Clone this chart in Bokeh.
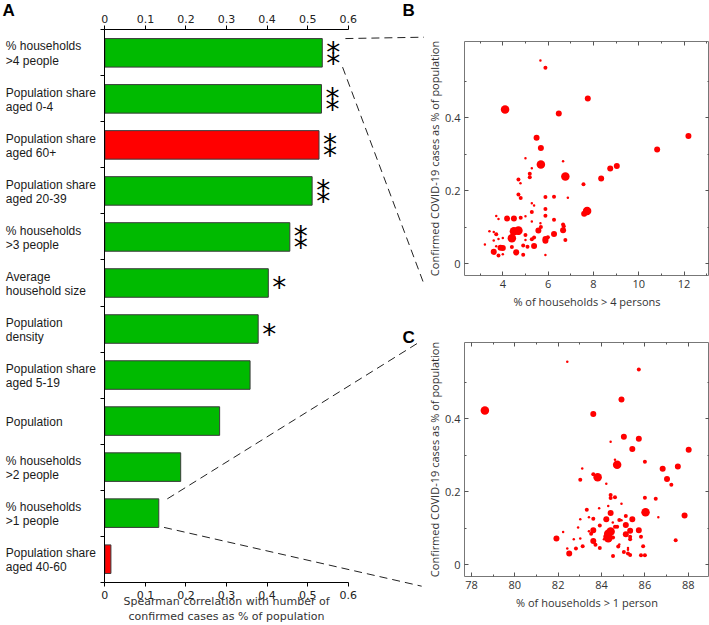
from bokeh.plotting import figure
from bokeh.layouts import row, column
from bokeh.models import (Range1d, LinearAxis, FixedTicker, Label, Arrow)
from bokeh.core.properties import value
from bokeh.embed import file_html
from bokeh.resources import INLINE

# ---------------- data: panel A ----------------
categories = [
    "% households\n>4 people",
    "Population share\naged 0-4",
    "Population share\naged 60+",
    "Population share\naged 20-39",
    "% households\n>3 people",
    "Average\nhousehold size",
    "Population\ndensity",
    "Population share\naged 5-19",
    "Population",
    "% households\n>2 people",
    "% households\n>1 people",
    "Population share\naged 40-60",
]
correlations = [0.536, 0.534, 0.528, 0.511, 0.456, 0.403, 0.378, 0.358, 0.283, 0.187, 0.133, 0.015]
signs = ["+", "+", "-", "+", "+", "+", "+", "+", "+", "+", "+", "-"]
significance = ["**", "**", "**", "**", "**", "*", "*", "", "", "", "", ""]
corr_ticks = [0, 0.1, 0.2, 0.3, 0.4, 0.5, 0.6]

# ---------------- data: panel B (x = % households > 4 persons) ----------------
b_x = [5.66, 5.88, 4.10, 7.75, 6.47, 12.19, 10.81, 5.49, 5.68, 5.68, 5.00, 6.66, 6.76, 5.28, 5.19, 5.19,
       4.69, 4.78, 7.56, 8.34, 8.74, 9.03, 4.69, 4.79, 5.88, 6.26, 6.87, 5.28, 5.38, 5.88, 5.28, 5.88,
       7.72, 7.59, 3.71, 3.81, 4.19, 4.49, 4.79, 5.00, 6.26, 5.28, 5.66, 6.66, 6.69, 5.68, 4.49, 4.69,
       4.69, 5.57, 6.66, 6.26, 3.41, 3.60, 3.71, 4.40, 5.00, 4.00, 4.40, 5.38, 5.28, 5.88, 5.99, 5.88,
       5.00, 6.76, 3.21, 3.60, 3.81, 3.71, 4.90, 5.09, 5.38, 4.40, 3.90, 4.00, 3.60, 3.62, 4.59, 4.59,
       4.90, 3.81, 4.00, 5.88]
b_y = [0.557, 0.537, 0.423, 0.453, 0.412, 0.350, 0.313, 0.345, 0.317, 0.272, 0.289, 0.281, 0.239, 0.262, 0.247, 0.237,
       0.231, 0.221, 0.218, 0.234, 0.261, 0.268, 0.190, 0.180, 0.183, 0.184, 0.181, 0.166, 0.160, 0.150, 0.142, 0.132,
       0.145, 0.137, 0.131, 0.123, 0.124, 0.124, 0.126, 0.130, 0.121, 0.116, 0.111, 0.108, 0.103, 0.101, 0.089, 0.091,
       0.087, 0.091, 0.092, 0.082, 0.089, 0.087, 0.081, 0.080, 0.079, 0.071, 0.070, 0.072, 0.067, 0.068, 0.073, 0.063,
       0.065, 0.065, 0.053, 0.064, 0.068, 0.048, 0.050, 0.047, 0.049, 0.046, 0.044, 0.043, 0.033, 0.030, 0.032, 0.028,
       0.025, 0.023, 0.026, 0.024]
b_pop = [1, 2, 4, 3, 3, 3, 3, 3, 3, 4, 1, 1, 4, 1, 2, 2,
         2, 1, 2, 3, 3, 3, 2, 2, 2, 2, 1, 1, 1, 2, 2, 2,
         4, 3, 1, 1, 3, 3, 2, 1, 2, 1, 1, 2, 2, 2, 4, 4,
         3, 3, 3, 3, 1, 1, 2, 1, 2, 1, 4, 2, 2, 3, 2, 3,
         1, 2, 1, 1, 1, 1, 2, 2, 3, 2, 3, 3, 3, 2, 3, 2,
         2, 2, 1, 1]

# ---------------- data: panel C (x = % households > 1 person) ----------------
c_x = [78.62, 82.42, 85.72, 84.92, 83.62, 85.03, 85.72, 84.42, 85.42, 88.02, 84.62, 86.00, 84.72, 87.52, 86.82, 83.11,
       83.62, 83.82, 87.02, 83.02, 87.22, 84.22, 84.42, 84.42, 84.62, 86.00, 86.50, 84.92, 83.89, 83.32, 84.31, 84.42,
       86.03, 87.83, 86.62, 83.42, 83.62, 84.22, 85.42, 84.82, 85.12, 83.02, 84.92, 83.92, 84.72, 84.62, 85.12, 84.52,
       82.92, 82.23, 83.42, 83.62, 84.42, 84.31, 85.32, 85.72, 83.52, 84.22, 85.12, 85.82, 85.32, 85.32, 84.53, 84.31,
       81.92, 82.72, 83.62, 83.02, 84.11, 84.42, 87.42, 84.82, 83.72, 83.92, 83.13, 82.82, 82.42, 84.77, 85.22, 85.22,
       85.92, 82.51, 85.03, 85.22, 85.32, 84.53, 85.82, 86.00]
c_y = [0.423, 0.556, 0.535, 0.453, 0.413, 0.351, 0.345, 0.337, 0.317, 0.315, 0.288, 0.282, 0.274, 0.269, 0.263, 0.264,
       0.248, 0.240, 0.235, 0.233, 0.219, 0.222, 0.191, 0.183, 0.185, 0.184, 0.181, 0.167, 0.155, 0.151, 0.161, 0.142,
       0.144, 0.135, 0.130, 0.130, 0.126, 0.125, 0.125, 0.123, 0.134, 0.125, 0.122, 0.108, 0.104, 0.104, 0.109, 0.116,
       0.102, 0.090, 0.092, 0.095, 0.091, 0.085, 0.093, 0.095, 0.085, 0.077, 0.084, 0.077, 0.077, 0.070, 0.075, 0.073,
       0.072, 0.070, 0.065, 0.072, 0.070, 0.070, 0.067, 0.056, 0.055, 0.046, 0.051, 0.045, 0.045, 0.050, 0.046, 0.041,
       0.051, 0.031, 0.035, 0.031, 0.027, 0.024, 0.026, 0.026]
c_pop = [4, 1, 2, 3, 3, 3, 3, 1, 3, 3, 1, 2, 4, 3, 3, 1,
         2, 4, 3, 2, 2, 1, 2, 2, 2, 2, 2, 1, 1, 2, 1, 3,
         4, 3, 1, 1, 2, 3, 3, 2, 2, 1, 1, 2, 2, 2, 3, 1,
         1, 1, 1, 3, 4, 4, 3, 3, 2, 3, 3, 2, 2, 2, 2, 4,
         3, 1, 3, 1, 1, 1, 2, 1, 2, 2, 2, 2, 1, 2, 1, 1,
         2, 3, 2, 2, 2, 2, 2, 2]

b_xticks = [4, 6, 8, 10, 12]
c_xticks = [78, 80, 82, 84, 86, 88]
case_ticks = [0.0, 0.2, 0.4]

GREEN = "#00BA00"
RED = "#FF0000"
DOT_SIZE = {1: 2.5, 2: 4.0, 3: 6.0, 4: 8.5}

# ================= panel A =================
n = len(categories)
centers = [n - 0.5 - i for i in range(n)]
colors = [GREEN if s == "+" else RED for s in signs]
BAR_H = 0.62
XR = (-0.2572, 0.788)
YR = (-0.941, 12.637)

# the frame fills the whole figure; axes are pinned at data locations
pA = figure(width=424, height=625, x_range=Range1d(*XR), y_range=Range1d(*YR),
            output_backend="svg", toolbar_location=None,
            min_border_left=0, min_border_right=0, min_border_top=0, min_border_bottom=0)
pA.outline_line_color = None
pA.grid.visible = False
pA.background_fill_color = None
pA.border_fill_color = None

pA.hbar(y=centers, left=0, right=correlations, height=BAR_H,
        fill_color=colors, line_color="#3a3a3a", line_width=1)

def style_corr_axis(ax):
    ax.bounds = (0, 0.6)
    ax.ticker = FixedTicker(ticks=corr_ticks)
    ax.major_label_overrides = {0: "0"}
    ax.major_tick_out = 4
    ax.major_tick_in = 0
    ax.minor_tick_out = 0
    ax.minor_tick_in = 0
    ax.axis_line_color = "#000000"
    ax.major_tick_line_color = "#000000"
    ax.major_label_text_font = "DejaVu Sans"
    ax.major_label_text_font_size = "11px"
    ax.major_label_text_color = "#222222"
    ax.major_label_standoff = 3

bottom_axis = pA.below[0]
style_corr_axis(bottom_axis)
bottom_axis.fixed_location = 0
bottom_axis.major_label_standoff = 5
bottom_axis.axis_label = "Spearman correlation with number of\nconfirmed cases as % of population"
bottom_axis.axis_label_text_font = "DejaVu Sans"
bottom_axis.axis_label_text_font_size = "11px"
bottom_axis.axis_label_text_font_style = "normal"
bottom_axis.axis_label_text_color = "#333333"
bottom_axis.axis_label_standoff = -8

top_axis = LinearAxis(fixed_location=n)
style_corr_axis(top_axis)
pA.add_layout(top_axis, "above")

ya = pA.left[0]
ya.fixed_location = 0
ya.bounds = (0, n)
ya.ticker = FixedTicker(ticks=[], minor_ticks=list(range(n + 1)))
ya.minor_tick_out = 4
ya.minor_tick_in = 0
ya.major_tick_out = 0
ya.major_tick_in = 0
ya.axis_line_color = "#000000"
ya.minor_tick_line_color = "#000000"

# category labels (one glyph per text line)
LINE_GAP = 0.158
lab_y, lab_t = [], []
for c, cy in zip(categories, centers):
    lines = c.split("\n")
    k = len(lines)
    for j, t in enumerate(lines):
        lab_y.append(cy + ((k - 1) / 2 - j) * LINE_GAP * 2 - 0.02)
        lab_t.append(t)
pA.text(x=[0] * len(lab_t), y=lab_y, text=lab_t, x_offset=-99,
        text_font=value("Liberation Sans"), text_font_size="12px",
        text_color="#1a1a1a", text_align="left", text_baseline="middle")

# significance asterisks
ast_x, ast_y = [], []
for v, cy, sig in zip(correlations, centers, significance):
    if len(sig) == 2:
        ast_x += [v, v]
        ast_y += [cy + 0.12, cy - 0.12]
    elif len(sig) == 1:
        ast_x.append(v)
        ast_y.append(cy)
pA.text(x=ast_x, y=ast_y, text=["*"] * len(ast_x), x_offset=11, y_offset=5,
        text_font=value("DejaVu Sans"), text_font_size="28px", text_color="#000000",
        text_align="center", text_baseline="middle")

# panel letters
for letter, lx, ly in [("A", -0.2522, 12.63), ("B", 0.734, 12.63), ("C", 0.734, 5.53)]:
    pA.add_layout(Label(x=lx, y=ly, text=letter,
                        text_font="Liberation Sans", text_font_size="17px",
                        text_font_style="bold", text_color="#000000",
                        text_baseline="top", text_align="left"))

# dashed connectors from the highlighted bars to the zoomed panels
i_b = 0   # % households >4
i_c = 10  # % households >1
conn = [
    (0.593, centers[i_b] + BAR_H / 2, XR[1], 11.84),
    (0.586, centers[i_b] - BAR_H / 2, XR[1], 6.446),
    (correlations[i_c] + 0.021, centers[i_c] + BAR_H / 2, 0.778, 5.23),
    (correlations[i_c] + 0.013, centers[i_c] - BAR_H / 2, 0.781, -0.087),
]
for xs, ys, xe, ye in conn:
    pA.add_layout(Arrow(x_start=xs, y_start=ys, x_end=xe, y_end=ye, end=None,
                        line_color="#222222", line_width=1, line_dash="8 5"))


# ================= panels B and C =================
def mirror_axis(ticks, length):
    ax = LinearAxis(ticker=FixedTicker(ticks=[], minor_ticks=ticks))
    ax.axis_line_color = None
    ax.major_tick_in = 0
    ax.major_tick_out = 0
    ax.minor_tick_in = length
    ax.minor_tick_out = 0
    ax.minor_tick_line_color = "#555555"
    return ax

def scatter_panel(xs, ys, pops, xr, xticks, xlabel, height, top, bottom):
    p = figure(width=285, height=height, x_range=Range1d(*xr), y_range=Range1d(-0.032, 0.609),
               output_backend="svg", toolbar_location=None,
               min_border_left=38, min_border_right=0, min_border_top=top, min_border_bottom=bottom)
    p.grid.visible = False
    p.outline_line_color = "#777777"
    p.outline_line_width = 1
    p.scatter(x=xs, y=ys, size=[DOT_SIZE[s] for s in pops], fill_color=RED, line_color=None)

    xminor = [t + 1 for t in xticks] + [xticks[0] - 1]
    yminor = [0.1, 0.3, 0.5]
    xa = p.below[0]
    yax = p.left[0]
    for ax, maj, mnr in [(xa, xticks, xminor), (yax, case_ticks, yminor)]:
        ax.ticker = FixedTicker(ticks=maj, minor_ticks=mnr)
        ax.axis_line_color = None
        ax.major_tick_in = 4
        ax.major_tick_out = 0
        ax.minor_tick_in = 2
        ax.minor_tick_out = 0
        ax.major_tick_line_color = "#555555"
        ax.minor_tick_line_color = "#555555"
        ax.major_label_text_font = "Open Sans"
        ax.major_label_text_font_size = "11px"
        ax.major_label_text_color = "#333333"
        ax.axis_label_text_font = "Open Sans"
        ax.axis_label_text_font_size = "11px"
        ax.axis_label_text_font_style = "normal"
        ax.axis_label_text_color = "#333333"
    xa.major_label_standoff = 4
    yax.major_label_standoff = 4
    xa.axis_label = xlabel
    yax.axis_label = "Confirmed COVID-19 cases as % of population"
    xa.axis_label_standoff = 3
    yax.axis_label_standoff = 0
    # mirrored tick marks on the top and right edges
    p.add_layout(mirror_axis(xticks, 4), "above")
    p.add_layout(mirror_axis(xminor, 2), "above")
    p.add_layout(mirror_axis(case_ticks, 4), "right")
    p.add_layout(mirror_axis(yminor, 2), "right")
    return p

pB = scatter_panel(b_x, b_y, b_pop, (2.31, 13.12), b_xticks, "% of households > 4 persons",
                   313, 41, 38)
pC = scatter_panel(c_x, c_y, c_pop, (77.68, 88.98), c_xticks, "% of households > 1 person",
                   312, 29, 49)

layout = row(pA, column(pB, pC))
open("out.html", "w").write(file_html(layout, INLINE))
